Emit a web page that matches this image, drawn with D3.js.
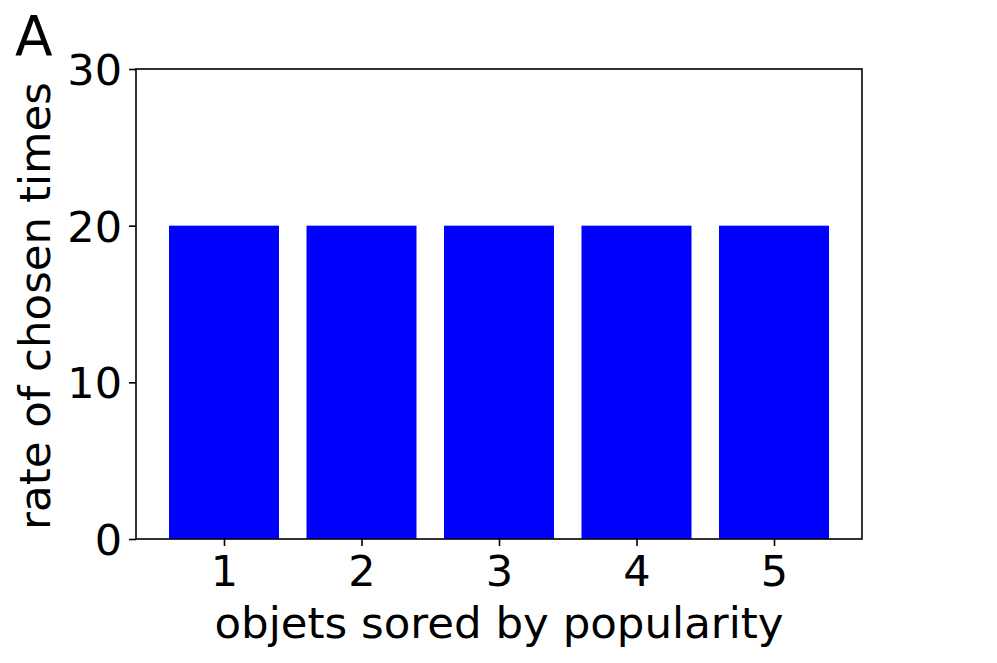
<!DOCTYPE html>
<html>
<head>
<meta charset="utf-8">
<script src="https://cdn.jsdelivr.net/npm/d3@7"></script>
<style>
	body { margin: 0; background: #fff; }
	text { font-family: 'DejaVu Sans', sans-serif; fill: #000; }
	.axis path, .axis line { stroke: #000; stroke-width: 1.6; }
</style>
</head>
<body>
<div id="chart"></div>
<script>
const categories = [1, 2, 3, 4, 5]
const rates = [20, 20, 20, 20, 20]
const yTicks = [0, 10, 20, 30]

const width = 997
const height = 663
const margin = { top: 69, right: 135, bottom: 124, left: 136 }

const svg = d3.select('#chart').append('svg')
	.attr('width', width)
	.attr('height', height)

const xScale = d3.scaleLinear()
	.domain([0.36, 5.64])
	.range([margin.left, width - margin.right])
const yScale = d3.scaleLinear()
	.domain([0, 30])
	.range([height - margin.bottom, margin.top])

const barWidth = xScale(0.8) - xScale(0)

svg.append('g')
	.selectAll('rect')
	.data(categories)
	.enter()
	.append('rect')
	.attr('x', d => xScale(d) - barWidth / 2)
	.attr('y', (d, i) => yScale(rates[i]))
	.attr('width', barWidth)
	.attr('height', (d, i) => yScale(0) - yScale(rates[i]))
	.attr('fill', '#0000ff')

// frame
svg.append('rect')
	.attr('x', margin.left)
	.attr('y', margin.top)
	.attr('width', width - margin.right - margin.left)
	.attr('height', height - margin.bottom - margin.top)
	.attr('fill', 'none')
	.attr('stroke', '#000')
	.attr('stroke-width', 1.6)

const xAxis = d3.axisBottom(xScale)
	.tickValues(categories)
	.tickFormat(d3.format('d'))
	.tickSize(7)
	.tickPadding(7)
const yAxis = d3.axisLeft(yScale)
	.tickValues(yTicks)
	.tickSize(7)
	.tickPadding(7)

const gx = svg.append('g')
	.attr('class', 'axis')
	.attr('transform', `translate(0, ${height - margin.bottom})`)
	.call(xAxis)
gx.select('.domain').remove()
gx.selectAll('text').style('font-size', '43px').attr('dy', '0.76em')

const gy = svg.append('g')
	.attr('class', 'axis')
	.attr('transform', `translate(${margin.left}, 0)`)
	.call(yAxis)
gy.select('.domain').remove()
gy.selectAll('text').style('font-size', '43px').attr('dy', '0.36em')

svg.append('text')
	.text('objets sored by popularity')
	.attr('x', (margin.left + width - margin.right) / 2)
	.attr('y', 638)
	.attr('text-anchor', 'middle')
	.style('font-size', '43.5px')

svg.append('text')
	.text('rate of chosen times')
	.attr('transform', `translate(50, ${(margin.top + height - margin.bottom) / 2 + 2}) rotate(-90)`)
	.attr('text-anchor', 'middle')
	.style('font-size', '43.5px')

svg.append('text')
	.text('A')
	.attr('x', 15)
	.attr('y', 55)
	.style('font-size', '55px')
</script>
</body>
</html>
